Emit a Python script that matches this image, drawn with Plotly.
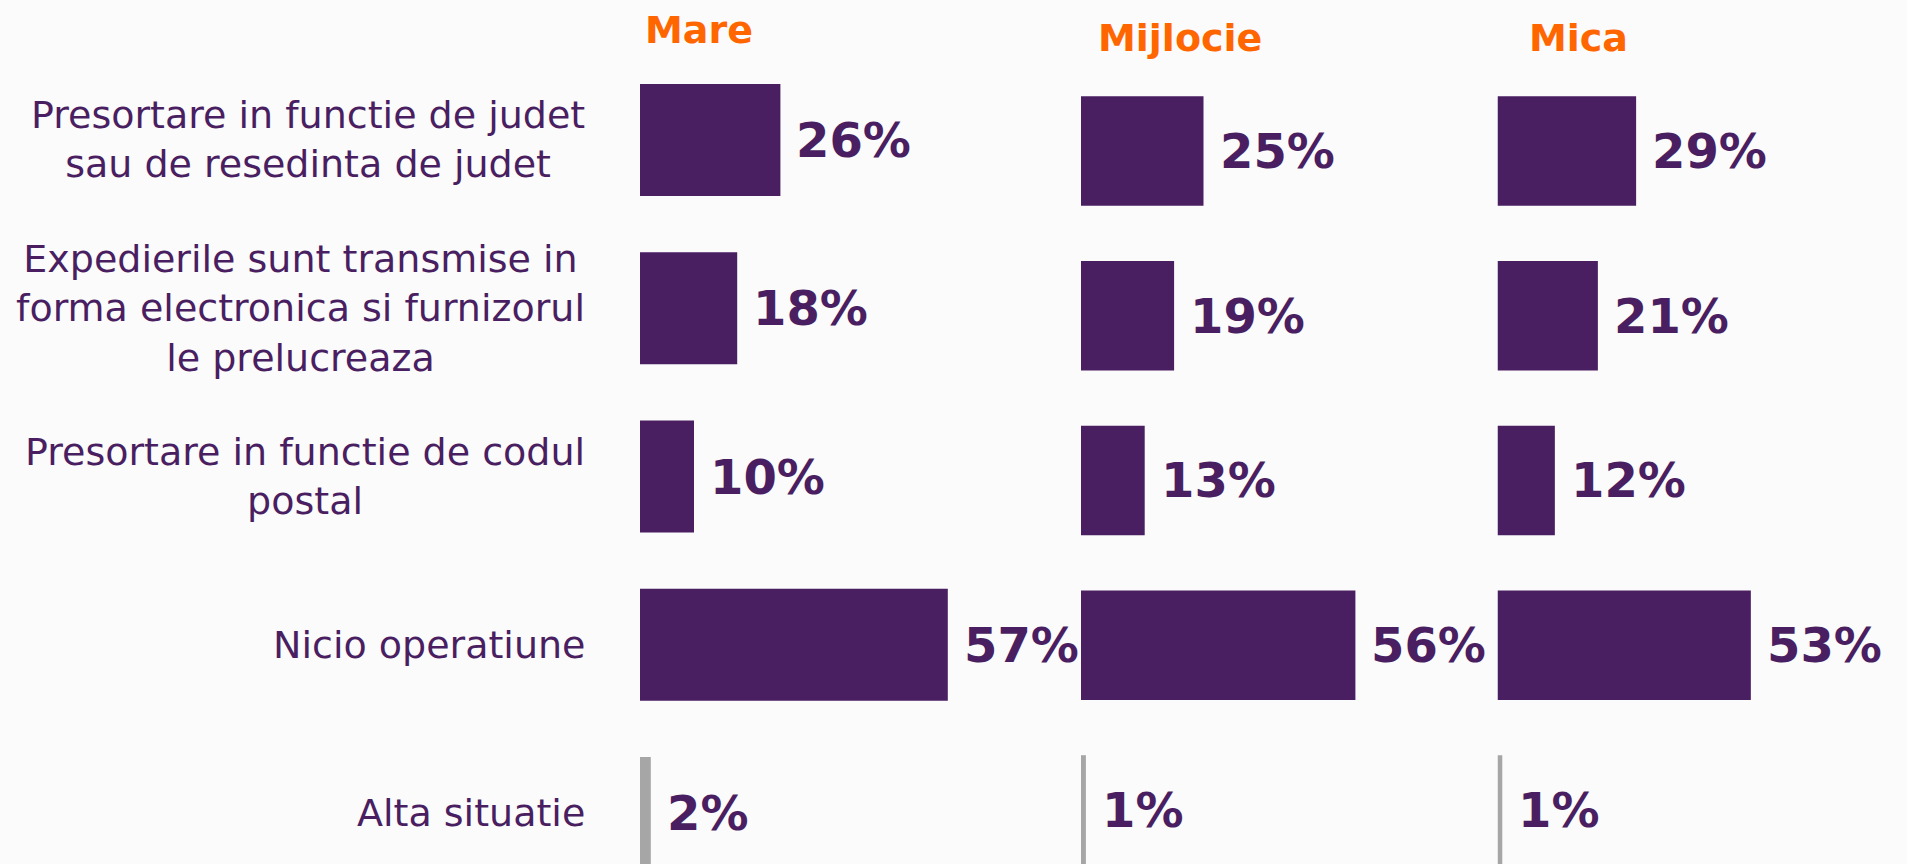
import plotly.graph_objects as go

categories = [
    "Presortare in functie de judet<br>sau de resedinta de judet",
    "Expedierile sunt transmise in<br>forma electronica si furnizorul<br>le prelucreaza",
    "Presortare in functie de codul<br>postal",
    "Nicio operatiune",
    "Alta situatie",
]
groups = ["Mare", "Mijlocie", "Mica"]
mare = [26, 18, 10, 57, 2]
mijlocie = [25, 19, 13, 56, 1]
mica = [29, 21, 12, 53, 1]
series = [mare, mijlocie, mica]

W, H = 1907, 864
PURPLE = "#4A1F62"
GREY = "#A6A6A6"
ORANGE = "#FF6600"
BG = "#FBFBFB"
bar_colors = [PURPLE, PURPLE, PURPLE, PURPLE, GREY]

# panel geometry (pixels)
x_starts = [640, 1081, 1497.5]
px_per_pct = [5.4, 4.9, 4.78]
XMAX = 60
y_ranges = [[4.303, -0.832], [4.328, -0.9165], [4.328, -0.9165]]

fig = go.Figure()
for i, vals in enumerate(series):
    sfx = "" if i == 0 else str(i + 1)
    fig.add_trace(go.Bar(
        x=vals, y=categories, orientation="h",
        marker=dict(color=bar_colors, line=dict(width=0)),
        xaxis="x" + sfx, yaxis="y" + sfx,
        hoverinfo="skip", showlegend=False,
    ))

layout = dict(
    width=W, height=H,
    margin=dict(l=0, r=0, t=0, b=0, pad=0),
    paper_bgcolor=BG, plot_bgcolor=BG,
    bargap=0.335,
    showlegend=False,
)
for i in range(3):
    sfx = "" if i == 0 else str(i + 1)
    x0 = x_starts[i]
    x1 = x0 + XMAX * px_per_pct[i]
    layout["xaxis" + sfx] = dict(
        domain=[x0 / W, x1 / W], range=[0, XMAX], anchor="y" + sfx,
        showgrid=False, zeroline=False, showline=False, showticklabels=False, ticks="",
    )
    layout["yaxis" + sfx] = dict(
        domain=[0, 1], range=y_ranges[i], anchor="x" + sfx,
        type="category", categoryorder="array", categoryarray=categories,
        showgrid=False, zeroline=False, showline=False, showticklabels=False, ticks="",
    )
fig.update_layout(**layout)

annotations = []
# category labels
for c in categories:
    annotations.append(dict(
        x=587 / W, xref="paper", xanchor="right",
        y=c, yref="y", yanchor="middle",
        text=c, showarrow=False, align="center",
        font=dict(family="DejaVu Sans, Verdana, sans-serif", size=38, color=PURPLE),
    ))
# value labels
for i, vals in enumerate(series):
    sfx = "" if i == 0 else str(i + 1)
    for c, v in zip(categories, vals):
        annotations.append(dict(
            x=v, xref="x" + sfx, xanchor="left", xshift=14,
            y=c, yref="y" + sfx, yanchor="middle",
            text=f"{v}%", showarrow=False,
            font=dict(family="DejaVu Sans, Verdana, sans-serif", size=48, color=PURPLE, weight="bold"),
        ))
# group headers
header_pos = [(699, 30), (1179.5, 38), (1578.5, 38)]
for g, (hx, hy) in zip(groups, header_pos):
    annotations.append(dict(
        x=hx / W, xref="paper", xanchor="center",
        y=1 - hy / H, yref="paper", yanchor="middle",
        text=f"<b>{g}</b>", showarrow=False,
        font=dict(family="DejaVu Sans, Arial, sans-serif", size=38, color=ORANGE),
    ))
fig.update_layout(annotations=annotations)

fig.write_html(
    "out.html",
    config={"displayModeBar": False, "staticPlot": True},
    post_script="document.body.style.margin='0';document.body.style.overflow='hidden';"
                "document.body.style.background='#FBFBFB';",
)
